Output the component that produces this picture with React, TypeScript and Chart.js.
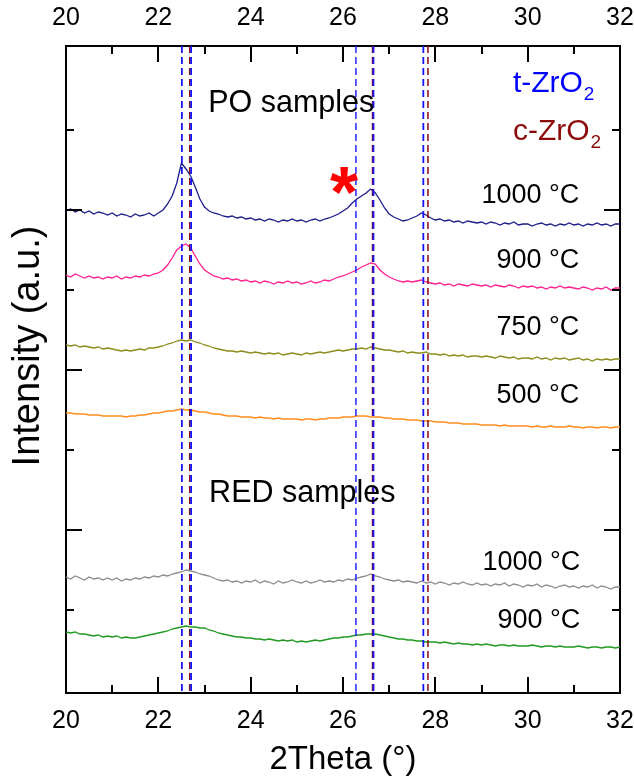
import React, { useEffect, useRef } from 'react';
import { Chart, registerables } from 'chart.js';

Chart.register(...registerables);

const FONT = '"Liberation Sans", Arial, Helvetica, sans-serif';

// 2Theta sampling grid
const X_START = 20;
const X_STEP = 0.1;
const X_MIN = 20;
const X_MAX = 32;
const X_TICKS = [20, 21, 22, 23, 24, 25, 26, 27, 28, 29, 30, 31, 32];

// intensity axis (arbitrary units)
const Y_MIN = -3;
const Y_MAX = 644;
const Y_TICKS = [80, 160, 240, 320, 400, 480, 560];

// reference peak positions
const T_ZRO2_PEAKS = [22.51, 22.71, 26.28, 26.66, 27.74];
const C_ZRO2_PEAKS = [22.68, 26.64, 27.84];

// PO samples
const PO_1000 = [
  479, 481, 478, 480, 477, 479, 476, 478, 477, 475,
  477, 474, 476, 475, 473, 476, 474, 475, 477, 474,
  477, 480, 486, 494, 507, 527, 521, 514, 503, 491,
  483, 479, 477, 476, 474, 473, 474, 472, 473, 471,
  472, 470, 471, 469, 471, 470, 468, 470, 469, 471,
  469, 470, 468, 470, 471, 469, 471, 472, 474, 476,
  479, 482, 487, 491, 494, 497, 501, 497, 490, 482,
  476, 473, 471, 469, 470, 472, 474, 477, 475, 472,
  470, 471, 469, 470, 468, 469, 467, 469, 468, 467,
  468, 466, 468, 467, 465, 467, 466, 468, 465, 466,
  466, 464, 466, 467, 465, 466, 464, 466, 465, 467,
  465, 466, 464, 466, 465, 467, 465, 466, 464, 466,
  466,
];
const PO_900 = [
  415, 413, 416, 414, 412, 414, 412, 413, 411, 413,
  412, 414, 411, 413, 412, 414, 413, 415, 414, 416,
  417, 420, 425, 432, 440, 444, 446, 442, 434, 426,
  420, 417, 414, 413, 411, 412, 410, 411, 409, 410,
  408, 409, 407, 409, 408, 406, 408, 407, 409, 407,
  408, 406, 407, 409, 407, 408, 410, 409, 411, 413,
  414, 416, 418, 420, 423, 425, 427, 426, 420, 416,
  413, 411, 409, 408, 409, 408, 409, 410, 408, 407,
  406, 407, 405, 406, 404, 406, 405, 404, 406, 405,
  404, 405, 403, 405, 404, 403, 405, 404, 402, 404,
  403, 404, 402, 403, 401, 403, 402, 404, 402, 403,
  402, 401, 403, 402, 400, 402, 401, 403, 400, 402,
  402,
];
const PO_750 = [
  345, 344, 345, 343, 344, 343, 342, 343, 341, 342,
  341, 340, 339, 340, 339, 340, 341, 340, 342, 342,
  343, 344, 346, 347, 349, 350, 349, 350, 348, 347,
  345, 344, 342, 341, 340, 339, 339, 338, 339, 338,
  337, 338, 337, 336, 337, 336, 337, 335, 336, 337,
  336, 335, 337, 336, 337, 338, 337, 338, 339, 340,
  339, 340, 341, 341, 342, 341, 343, 342, 341, 340,
  340, 339, 338, 339, 337, 338, 337, 337, 338, 336,
  336, 335, 336, 334, 335, 334, 335, 333, 334, 334,
  333, 334, 333, 332, 334, 333, 332, 333, 331, 332,
  332, 331, 333, 331, 332, 330, 332, 331, 332, 330,
  331, 332, 330, 331, 329, 331, 330, 331, 330, 331,
  331,
];
const PO_500 = [
  277, 277, 276, 276, 276, 275, 275, 275, 274, 274,
  274, 274, 274, 273, 274, 274, 275, 275, 276, 277,
  277, 278, 279, 279, 280, 281, 280, 280, 279, 278,
  278, 277, 276, 276, 275, 274, 274, 274, 273, 273,
  273, 272, 273, 272, 272, 271, 272, 271, 271, 271,
  271, 270, 271, 271, 270, 271, 271, 272, 272, 272,
  273, 273, 273, 274, 274, 274, 273, 273, 273, 272,
  272, 271, 271, 271, 270, 270, 270, 269, 269, 269,
  268, 268, 268, 267, 267, 267, 266, 266, 266, 266,
  265, 265, 265, 265, 264, 265, 264, 264, 264, 264,
  264, 263, 264, 263, 263, 264, 263, 263, 263, 264,
  263, 263, 262, 263, 263, 262, 263, 263, 262, 263,
  263,
];
// RED samples
const RED_1000 = [
  113, 111, 114, 112, 110, 113, 111, 112, 110, 112,
  110, 112, 109, 111, 110, 112, 111, 113, 112, 114,
  113, 115, 114, 116, 117, 118, 120, 119, 118, 116,
  115, 114, 112, 110, 109, 110, 108, 109, 107, 109,
  108, 110, 107, 109, 108, 106, 109, 107, 108, 110,
  108, 107, 109, 107, 108, 110, 108, 109, 108, 110,
  109, 111, 110, 112, 113, 114, 116, 114, 113, 111,
  110, 109, 110, 108, 109, 108, 107, 109, 107, 108,
  106, 108, 107, 105, 107, 106, 108, 106, 105, 107,
  105, 106, 104, 106, 105, 107, 104, 106, 105, 103,
  105, 104, 106, 103, 105, 104, 102, 104, 105, 103,
  104, 102, 104, 103, 105, 102, 104, 103, 101, 103,
  103,
];
const RED_900 = [
  58, 57, 58, 56, 56, 55, 54, 55, 53, 54,
  53, 54, 52, 53, 52, 52, 53, 54, 55, 56,
  57, 58, 59, 61, 62, 63, 64, 63, 63, 62,
  62, 60, 59, 57, 56, 55, 54, 53, 53, 52,
  52, 51, 51, 50, 51, 50, 49, 50, 49, 50,
  48, 49, 48, 49, 50, 49, 50, 51, 52, 52,
  53, 53, 54, 55, 55, 56, 56, 56, 55, 54,
  53, 52, 51, 51, 50, 50, 49, 49, 48, 48,
  48, 47, 48, 47, 46, 47, 46, 46, 45, 46,
  45, 46, 45, 44, 45, 45, 44, 45, 44, 44,
  44, 45, 44, 43, 44, 44, 43, 44, 43, 43,
  43, 44, 43, 42, 43, 43, 42, 43, 43, 42,
  43,
];

const SERIES = [
  { name: 'PO 1000 °C', values: PO_1000, color: '#1c1c8a' },
  { name: 'PO 900 °C', values: PO_900, color: '#ff1f8f' },
  { name: 'PO 750 °C', values: PO_750, color: '#8c8c1c' },
  { name: 'PO 500 °C', values: PO_500, color: '#ff8c1f' },
  { name: 'RED 1000 °C', values: RED_1000, color: '#8c8c8c' },
  { name: 'RED 900 °C', values: RED_900, color: '#1f9a1f' },
];

// text annotations (data coordinates)
const ANNOTATIONS = [
  { text: 'PO samples', x: 23.08, y: 578, align: 'left', color: '#000', size: 30.5 },
  { text: 't-ZrO', sub: '2', x: 29.68, y: 598, align: 'left', color: '#0000ff', size: 30 },
  { text: 'c-ZrO', sub: '2', x: 29.68, y: 550, align: 'left', color: '#8b0a0a', size: 30 },
  { text: '1000 °C', x: 31.12, y: 487, align: 'right', color: '#000', size: 27 },
  { text: '900 °C', x: 31.12, y: 422, align: 'right', color: '#000', size: 27 },
  { text: '750 °C', x: 31.12, y: 355, align: 'right', color: '#000', size: 27 },
  { text: '500 °C', x: 31.12, y: 287, align: 'right', color: '#000', size: 27 },
  { text: 'RED samples', x: 23.1, y: 188, align: 'left', color: '#000', size: 30.5 },
  { text: '1000 °C', x: 31.14, y: 120, align: 'right', color: '#000', size: 27 },
  { text: '900 °C', x: 31.14, y: 62, align: 'right', color: '#000', size: 27 },
];
const STAR = { text: '*', x: 26.02, y: 508, color: '#ff0000', size: 72 };
const Y_TITLE = { text: 'Intensity (a.u.)', x: 29, y: 346, size: 38 };

const overlayPlugin = {
  id: 'overlay',
  afterDatasetsDraw(chart: any) {
    const { ctx, scales } = chart;
    const xs = scales.x;
    const ys = scales.y;
    ctx.save();
    for (const a of ANNOTATIONS as any[]) {
      const px = xs.getPixelForValue(a.x);
      const py = ys.getPixelForValue(a.y);
      ctx.font = `${a.size}px ${FONT}`;
      ctx.fillStyle = a.color;
      ctx.textAlign = a.align;
      ctx.textBaseline = 'alphabetic';
      ctx.fillText(a.text, px, py);
      if (a.sub) {
        const w = ctx.measureText(a.text).width;
        ctx.font = `${Math.round(a.size * 0.62)}px ${FONT}`;
        ctx.textAlign = 'left';
        ctx.fillText(a.sub, px + w + 1, py + 8);
      }
    }
    // asterisk
    ctx.font = `bold ${STAR.size}px ${FONT}`;
    ctx.fillStyle = STAR.color;
    ctx.textAlign = 'center';
    ctx.textBaseline = 'alphabetic';
    ctx.fillText(STAR.text, xs.getPixelForValue(STAR.x), ys.getPixelForValue(STAR.y) + STAR.size * 0.48);
    ctx.restore();
  },
  afterDraw(chart: any) {
    const { ctx, chartArea: ca, scales } = chart;
    ctx.save();
    ctx.strokeStyle = '#000';
    ctx.lineWidth = 2;
    ctx.beginPath();
    for (const v of X_TICKS) {
      const px = Math.round(scales.x.getPixelForValue(v));
      const len = v % 2 === 0 ? 16 : 8;
      ctx.moveTo(px, ca.bottom);
      ctx.lineTo(px, ca.bottom - len);
      ctx.moveTo(px, ca.top);
      ctx.lineTo(px, ca.top + len);
    }
    for (const v of Y_TICKS) {
      const py = Math.round(scales.y.getPixelForValue(v));
      const len = v % 160 === 0 ? 16 : 8;
      ctx.moveTo(ca.left, py);
      ctx.lineTo(ca.left + len, py);
      ctx.moveTo(ca.right, py);
      ctx.lineTo(ca.right - len, py);
    }
    ctx.stroke();
    // y-axis title
    ctx.translate(Y_TITLE.x, Y_TITLE.y);
    ctx.rotate(-Math.PI / 2);
    ctx.font = `${Y_TITLE.size}px ${FONT}`;
    ctx.fillStyle = '#000';
    ctx.textAlign = 'center';
    ctx.textBaseline = 'middle';
    ctx.fillText(Y_TITLE.text, 0, 0);
    ctx.restore();
  },
};

const xTickCb = (v: any) => (Number(v) % 2 === 0 ? String(v) : '');
const setXTicks = (s: any) => {
  s.ticks = X_TICKS.map((v) => ({ value: v }));
};
const setYTicks = (s: any) => {
  s.ticks = Y_TICKS.map((v) => ({ value: v }));
};

export default function App() {
  const ref = useRef<HTMLCanvasElement>(null);
  useEffect(() => {
    const canvas = ref.current;
    if (!canvas) return;
    const toPoints = (vals: number[]) =>
      vals.map((v, i) => ({ x: Math.round((X_START + i * X_STEP) * 100) / 100, y: v }));
    const datasets: any[] = [];
    const lineDs = (pos: number, color: string, width: number) => ({
      data: [
        { x: pos, y: Y_MAX },
        { x: pos, y: Y_MIN },
      ],
      borderColor: color,
      borderWidth: width,
      borderDash: [7, 4],
      pointRadius: 0,
      fill: false,
    });
    T_ZRO2_PEAKS.forEach((p, i) => datasets.push(lineDs(p, '#1414ff', i === 2 ? 1.4 : 1.8)));
    C_ZRO2_PEAKS.forEach((p) => datasets.push(lineDs(p, '#8b0a0a', 1.5)));
    SERIES.forEach((s) =>
      datasets.push({
        label: s.name,
        data: toPoints(s.values),
        borderColor: s.color,
        borderWidth: 1.3,
        pointRadius: 0,
        tension: 0,
        fill: false,
      })
    );
    const tickFont = { family: FONT, size: 25 };
    const chart = new Chart(canvas, {
      type: 'line',
      data: { datasets },
      options: {
        animation: false,
        responsive: false,
        events: [],
        layout: { padding: 0 },
        plugins: { legend: { display: false }, tooltip: { enabled: false } },
        scales: {
          x: {
            type: 'linear',
            position: 'bottom',
            min: X_MIN,
            max: X_MAX,
            afterBuildTicks: setXTicks,
            afterFit: (s: any) => {
              s.height = 83;
              s.paddingLeft = 0;
              s.paddingRight = 0;
            },
            grid: { display: false },
            border: { display: true, color: '#000', width: 2 },
            ticks: { callback: xTickCb, color: '#000', font: tickFont, padding: 5, autoSkip: false, maxRotation: 0 },
            title: {
              display: true,
              text: '2Theta (°)',
              color: '#000',
              font: { family: FONT, size: 33, lineHeight: 1 },
              padding: { top: 0, bottom: 0 },
            },
          },
          x2: {
            type: 'linear',
            position: 'top',
            min: X_MIN,
            max: X_MAX,
            afterBuildTicks: setXTicks,
            afterFit: (s: any) => {
              s.height = 46;
              s.paddingLeft = 0;
              s.paddingRight = 0;
            },
            grid: { display: false },
            border: { display: true, color: '#000', width: 2 },
            ticks: { callback: xTickCb, color: '#000', font: tickFont, padding: 5, autoSkip: false, maxRotation: 0 },
          },
          y: {
            type: 'linear',
            position: 'left',
            min: Y_MIN,
            max: Y_MAX,
            afterBuildTicks: setYTicks,
            afterFit: (s: any) => {
              s.width = 66;
            },
            grid: { display: false },
            border: { display: true, color: '#000', width: 2 },
            ticks: { display: false },
          },
          y2: {
            type: 'linear',
            position: 'right',
            min: Y_MIN,
            max: Y_MAX,
            afterBuildTicks: setYTicks,
            afterFit: (s: any) => {
              s.width = 14;
            },
            grid: { display: false },
            border: { display: true, color: '#000', width: 2 },
            ticks: { display: false },
          },
        },
      } as any,
      plugins: [overlayPlugin],
    });
    return () => chart.destroy();
  }, []);
  return (
    <canvas
      ref={ref}
      width={634}
      height={776}
      style={{ position: 'absolute', left: 0, top: 0, width: 634, height: 776, background: '#fff' }}
    />
  );
}
